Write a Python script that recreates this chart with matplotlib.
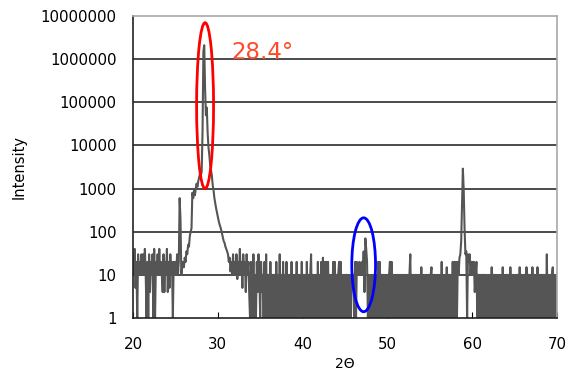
import numpy as np
import matplotlib
matplotlib.use("Agg")
import matplotlib.pyplot as plt
from matplotlib.patches import Ellipse
from matplotlib.transforms import blended_transform_factory

# 2-theta scan grid, 0.1 deg step from 20 to 70
two_theta = np.round(np.arange(20.0, 70.05, 0.1), 1)

# intensity (1 = bottom of axis / zero counts)
seg_20_25 = [
    30, 10, 40, 5, 20, 1, 30, 10, 20, 10,
    30, 10, 30, 10, 40, 10, 1, 20, 1, 30,
    4, 20, 10, 30, 1, 40, 1, 20, 10, 30,
    10, 40, 10, 20, 10, 4, 30, 4, 20, 10,
    40, 4, 20, 5, 30, 10, 20, 1, 20, 10,
]
seg_25_28 = [
    20, 10, 30, 10, 20, 600, 200, 10, 15, 20,
    15, 25, 20, 35, 30, 50, 45, 80, 100, 120,
    800, 600, 900, 700, 1000, 1300, 1100, 1500, 1800, 2200,
]
seg_28_32 = [
    2000, 2500, 20000, 1500000, 2100000, 200000, 50000, 75000, 20000, 9000,
    6000, 3500, 2600, 2000, 1200, 900, 600, 450, 350, 280,
    220, 180, 150, 130, 110, 90, 75, 60, 55, 45,
    40, 35, 30, 20, 25, 12, 20, 10, 30, 10,
]
seg_32_35 = [
    20, 10, 30, 8, 20, 10, 40, 10, 20, 5,
    30, 10, 20, 4, 30, 10, 20, 4, 1, 20,
    4, 1, 30, 1, 10, 1, 20, 4, 30, 10,
    1, 20, 4, 10, 1, 20, 1, 30, 1, 10,
]
seg_36_70 = [
    10, 1, 20, 1, 10, 1, 10, 10, 1, 20,
    1, 10, 1, 30, 1, 10, 1, 20, 1, 10,
    1, 20, 1, 10, 1, 10, 1, 20, 1, 10,
    1, 10, 1, 20, 1, 10, 1, 10, 1, 20,
    1, 10, 1, 10, 1, 20, 1, 10, 1, 10,
    30, 1, 10, 1, 10, 1, 10, 1, 20, 1,
    10, 1, 20, 1, 25, 1, 20, 1, 20, 1,
    20, 1, 10, 1, 10, 1, 20, 1, 20, 1,
    10, 1, 10, 20, 1, 20, 1, 10, 1, 10,
    1, 10, 10, 1, 10, 1, 10, 1, 10, 10,
    10, 1, 20, 1, 20, 10, 10, 20, 10, 10,
    20, 10, 35, 4, 70, 40, 20, 1, 10, 1,
    1, 10, 1, 10, 1, 10, 1, 10, 1, 20,
    1, 20, 1, 10, 10, 1, 10, 1, 10, 1,
    10, 1, 10, 20, 1, 20, 1, 10, 1, 10,
    1, 10, 10, 1, 10, 1, 10, 1, 10, 1,
    10, 1, 10, 1, 10, 1, 10, 30, 1, 10,
    1, 10, 1, 10, 10, 1, 10, 1, 10, 1,
    15, 1, 10, 1, 10, 1, 10, 10, 1, 10,
    1, 10, 15, 1, 10, 1, 10, 1, 10, 1,
    10, 1, 10, 1, 20, 1, 10, 1, 10, 1,
    15, 1, 10, 10, 1, 10, 1, 20, 1, 20,
    1, 20, 1, 20, 10, 25, 30, 60, 400, 2900,
    900, 120, 30, 35, 1, 30, 20, 30, 10, 20,
    20, 10, 20, 4, 10, 20, 1, 10, 10, 1,
    10, 1, 10, 10, 1, 10, 1, 10, 1, 10,
    1, 10, 1, 15, 1, 10, 10, 1, 10, 1,
    10, 1, 10, 1, 10, 1, 15, 1, 10, 1,
    10, 10, 1, 10, 1, 15, 1, 10, 1, 10,
    1, 10, 1, 10, 10, 1, 15, 1, 10, 1,
    10, 1, 10, 1, 15, 1, 10, 10, 1, 10,
    1, 15, 1, 10, 1, 10, 1, 15, 1, 10,
    1, 10, 10, 1, 10, 1, 10, 1, 30, 1,
    10, 1, 10, 1, 10, 15, 1, 10, 1, 10,
    1,
]
intensity = np.array(seg_20_25 + seg_25_28 + seg_28_32 + seg_32_35 + seg_36_70, dtype=float)

y_ticks = [1, 10, 100, 1000, 10000, 100000, 1000000, 10000000]
x_ticks = [20, 30, 40, 50, 60, 70]

# highlighted peaks: centre 2theta, width (deg), low / high intensity, colour
marks = [
    (28.5, 2.0, 1000, 7e6, "#ff0000"),
    (47.2, 2.8, 1.4, 210, "#0000ff"),
]
peak_label = "28.4°"

fig = plt.figure(figsize=(5.75, 3.74), dpi=100)
ax = fig.add_axes([0.2313, 0.1497, 0.7374, 0.8075])

ax.plot(two_theta, intensity, color="#555555", lw=1.5, zorder=2)

ax.set_yscale("log")
ax.set_ylim(1, 1e7)
ax.set_xlim(20, 70)
ax.set_yticks(y_ticks)
ax.set_yticklabels([str(v) for v in y_ticks])
ax.yaxis.set_minor_locator(matplotlib.ticker.NullLocator())
ax.set_xticks(x_ticks)
ax.tick_params(axis="y", length=0, labelsize=10.8, pad=12)
ax.tick_params(axis="x", direction="in", length=4, labelsize=10.8, pad=14)
for t in y_ticks[1:-1]:
    ax.axhline(t, color="#1a1a1a", lw=1.1, zorder=1)

ax.spines["left"].set_color("#222222")
ax.spines["bottom"].set_color("#222222")
ax.spines["top"].set_color("#a8a8a8")
ax.spines["right"].set_color("#a8a8a8")
for s in ax.spines.values():
    s.set_linewidth(1.2)

ax.set_ylabel("Intensity", fontsize=10.5, labelpad=10)
ax.set_xlabel("2Θ", fontsize=10, labelpad=3)

trans = blended_transform_factory(ax.transData, ax.transAxes)
ymin, ymax = np.log10(ax.get_ylim())
for cx, w, lo, hi, col in marks:
    f_lo = (np.log10(lo) - ymin) / (ymax - ymin)
    f_hi = (np.log10(hi) - ymin) / (ymax - ymin)
    ell = Ellipse((cx, (f_lo + f_hi) / 2), w, f_hi - f_lo, transform=trans,
                  fill=False, edgecolor=col, lw=2.0, zorder=4)
    ax.add_patch(ell)

ax.text(31.6, 1e6, peak_label, color="#ff4a2a", fontsize=16.5,
        ha="left", va="baseline", zorder=5)

fig.savefig("out.png", dpi=100)
